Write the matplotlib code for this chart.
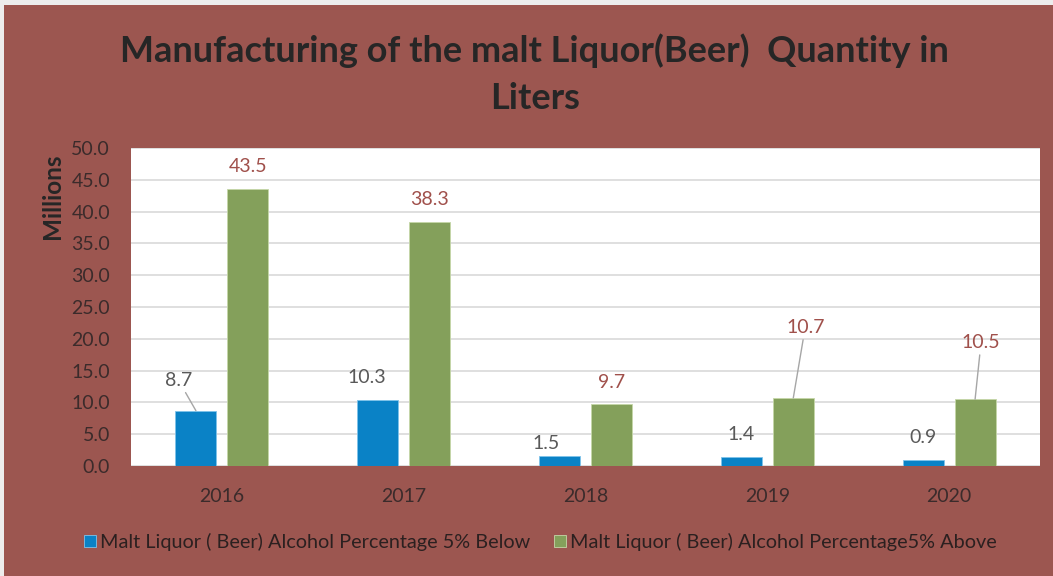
import numpy as np
import matplotlib
matplotlib.use('Agg')
import matplotlib.pyplot as plt
from matplotlib.patches import Rectangle

plt.rcParams['font.family'] = ['Lato', 'DejaVu Sans']

years = ['2016', '2017', '2018', '2019', '2020']
below_5 = [8.7, 10.3, 1.5, 1.4, 0.9]
above_5 = [43.5, 38.3, 9.7, 10.7, 10.5]
below_name = 'Malt Liquor ( Beer) Alcohol Percentage 5% Below'
above_name = 'Malt Liquor ( Beer) Alcohol Percentage5% Above'

# label offsets (points) from each bar top, leader line if far away
below_offsets = [(-12.6, 22), (-8, 16.5), (-10, 9), (0, 16), (0, 16.5)]
above_offsets = [(0, 16.5), (0, 16.5), (0, 16), (8.6, 51), (4.3, 41)]
below_leader = [True, False, False, False, False]
above_leader = [False, False, False, True, True]

bg = '#9C5650'
blue = '#0A82C6'
green = '#84A05B'

fig = plt.figure(figsize=(10.53, 5.76), dpi=100)
fig.patch.set_facecolor(bg)
# thin light strips along top and left edge
fig.patches.append(Rectangle((0, 571 / 576), 1, 5 / 576, transform=fig.transFigure,
                             facecolor='#EDEDED', edgecolor='none'))
fig.patches.append(Rectangle((0, 0), 4 / 1053, 1, transform=fig.transFigure,
                             facecolor='#EDEDED', edgecolor='none'))

ax = fig.add_axes([131 / 1053, 110 / 576, 909 / 1053, 318 / 576])
ax.set_zorder(2)
ax.set_facecolor('white')
x = np.arange(len(years))
w = 0.225
b1 = ax.bar(x - 0.143, below_5, w, color=blue, edgecolor='#7FC3EA', linewidth=0.6,
            label=below_name, zorder=3)
b2 = ax.bar(x + 0.143, above_5, w, color=green, edgecolor='#C5D7A8', linewidth=0.6,
            label=above_name, zorder=3)

ax.set_xlim(-0.5, 4.5)
ax.set_ylim(0, 50)
ax.set_yticks(np.arange(0, 50.1, 5))
ax.set_yticklabels([f'{v:.1f}' for v in np.arange(0, 50.1, 5)])
ax.set_xticks(x)
ax.set_xticklabels(years)
ax.tick_params(axis='both', length=0, labelsize=14, colors='#3B2B2B')
ax.tick_params(axis='y', pad=15)
ax.tick_params(axis='x', pad=16)
ax.grid(axis='y', color='#D9D9D9', linewidth=1.2, zorder=0)
for s in ax.spines.values():
    s.set_visible(False)


def put_labels(bars, vals, offsets, leaders, color):
    for bar, v, (dx, dy), lead in zip(bars, vals, offsets, leaders):
        cx = bar.get_x() + bar.get_width() / 2
        ap = None
        if lead:
            ap = dict(arrowstyle='-', color='#A6A6A6', lw=1, shrinkA=1, shrinkB=0)
        ax.annotate(f'{v:.1f}', xy=(cx, v), xytext=(dx, dy), textcoords='offset points',
                    ha='center', va='center', fontsize=14, color=color,
                    arrowprops=ap, zorder=4)


put_labels(b1, below_5, below_offsets, below_leader, '#595959')
put_labels(b2, above_5, above_offsets, above_leader, '#A0504B')

fig.text(0.508, 1 - 74 / 576, 'Manufacturing of the malt Liquor(Beer)  Quantity in\nLiters',
         ha='center', va='center', fontsize=26, fontweight='bold', color='#262626',
         linespacing=1.5)
fig.text(52 / 1053, 1 - 196 / 576, 'Millions', rotation=90, ha='center', va='center',
         fontsize=17.5, fontweight='bold', color='#262626')

fig.legend(loc='center', bbox_to_anchor=(540 / 1053, 1 - 542 / 576), ncol=2,
           frameon=False, fontsize=14.3, handlelength=0.6, handleheight=0.6,
           handletextpad=0.2, columnspacing=1.2, labelcolor='#2B2020')

fig.savefig('out.png', dpi=100, facecolor=fig.get_facecolor())
